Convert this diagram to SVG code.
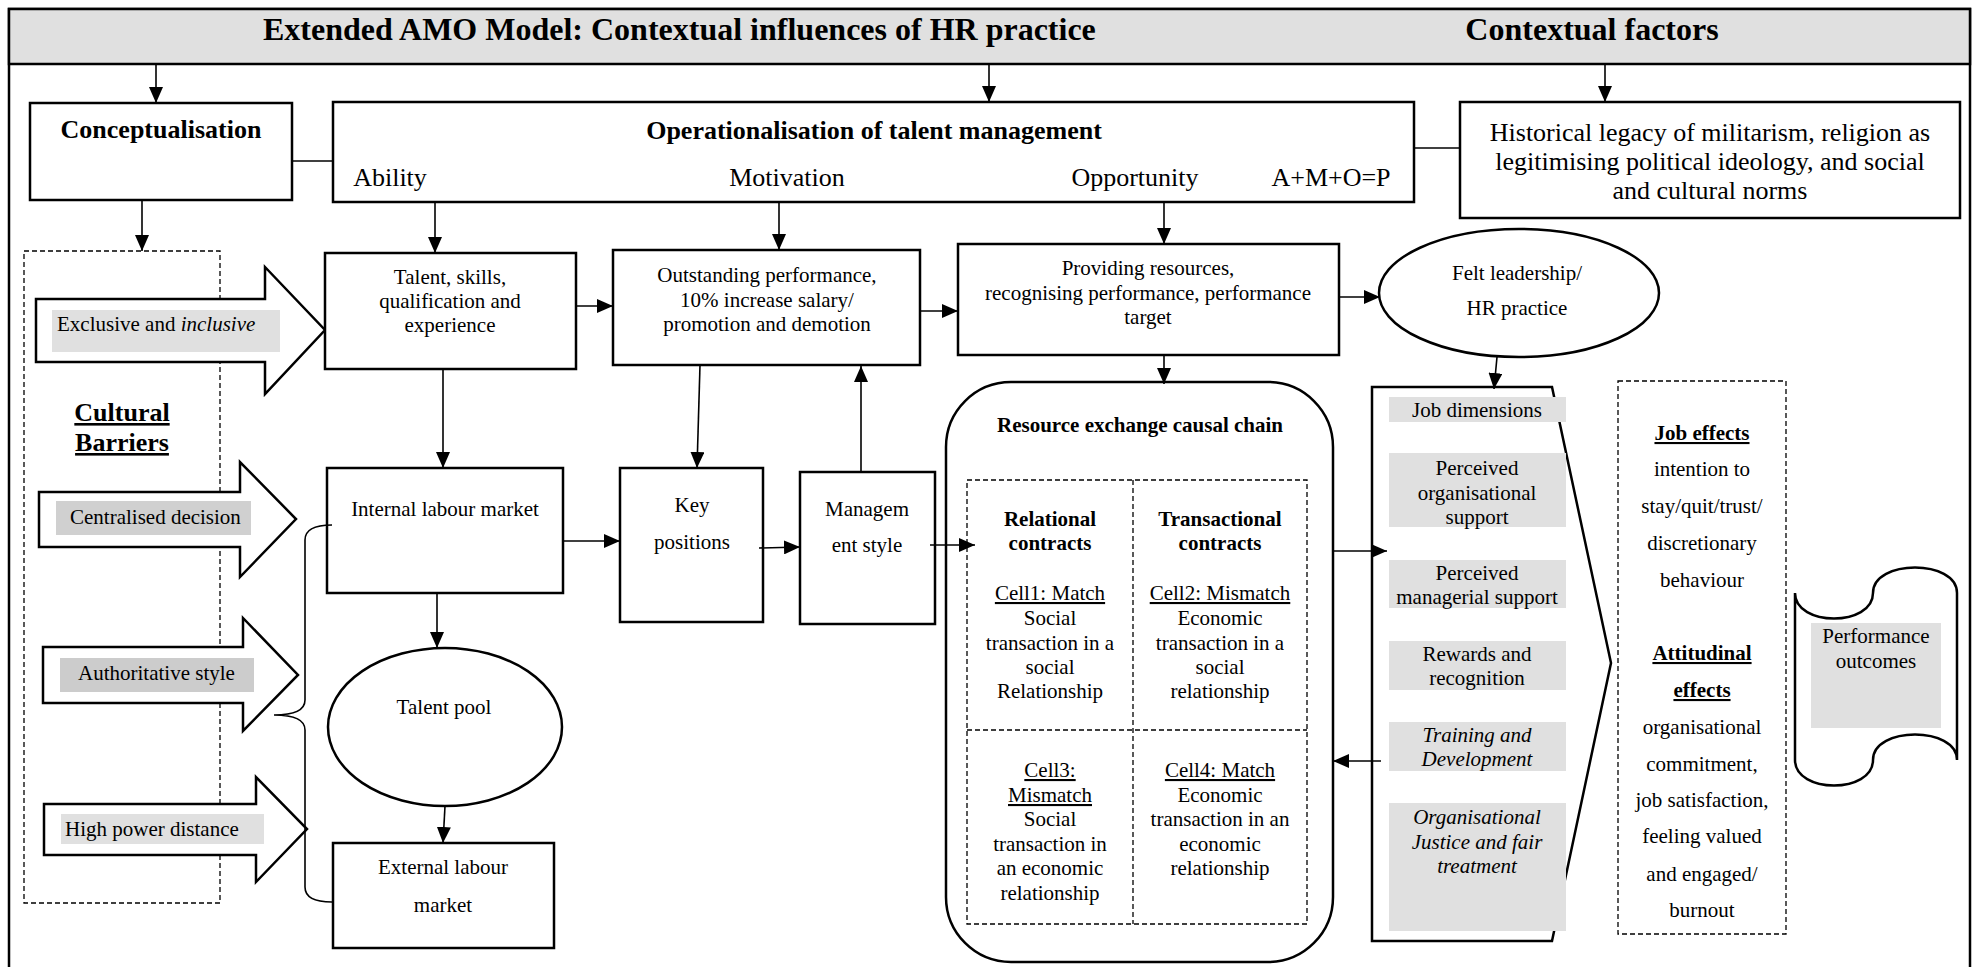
<svg xmlns="http://www.w3.org/2000/svg" width="1977" height="967" viewBox="0 0 1977 967">
<style>
text{font-family:"Liberation Serif","Times New Roman",serif;fill:#000}
.t21{font-size:21px}.t26{font-size:26px}.t32{font-size:32px}
.b{font-weight:bold}.i{font-style:italic}.u{text-decoration:underline}.c{text-anchor:middle}
.box{fill:#fff;stroke:#000;stroke-width:2.5}
.ln{fill:none;stroke:#000;stroke-width:1.6}
.arr{marker-end:url(#ah)}
.dash{fill:none;stroke:#000;stroke-width:1.3;stroke-dasharray:5 3}
.g1{fill:#e0e0e0}.g2{fill:#d0d0d0}.g3{fill:#cccccc}
.blk{fill:#fff;stroke:#000;stroke-width:2.5;stroke-linejoin:miter}
</style>
<defs>
<marker id="ah" markerUnits="userSpaceOnUse" markerWidth="16" markerHeight="14" refX="16" refY="7" orient="auto">
<path d="M0,0 L16,7 L0,14 z" fill="#000"/>
</marker>
</defs>
<rect width="1977" height="967" fill="#fff"/>
<g id="frame">
<rect x="9" y="9" width="1961" height="980" fill="none" stroke="#000" stroke-width="2.5"/>
<rect x="9" y="9" width="1961" height="55" fill="#e0e0e0" stroke="#000" stroke-width="2.5"/>
<text class="t32 b" x="263" y="40">Extended AMO Model: Contextual influences of HR practice</text>
<text class="t32 b c" x="1592" y="40">Contextual factors</text>
</g>
<g id="cultural-barriers">
<rect class="dash" x="24" y="251" width="196" height="652"/>
<text class="t26 b u c" x="122" y="421">Cultural</text>
<text class="t26 b u c" x="122" y="451">Barriers</text>
</g>
<g id="conceptualisation">
<rect class="box" x="30" y="103" width="262" height="97"/>
<text class="t26 b c" x="161" y="138">Conceptualisation</text>
</g>
<g id="operationalisation">
<rect class="box" x="333" y="102" width="1081" height="100"/>
<text class="t26 b c" x="874" y="139">Operationalisation of talent management</text>
<text class="t26 c" x="390" y="186">Ability</text>
<text class="t26 c" x="787" y="186">Motivation</text>
<text class="t26 c" x="1135" y="186">Opportunity</text>
<text class="t26 c" x="1331" y="186">A+M+O=P</text>
</g>
<g id="historical">
<rect class="box" x="1460" y="102" width="500" height="116"/>
<text class="t26 c" x="1710" y="141">Historical legacy of militarism, religion as</text>
<text class="t26 c" x="1710" y="170">legitimising political ideology, and social</text>
<text class="t26 c" x="1710" y="199">and cultural norms</text>
</g>
<g id="exclusive">
<polygon class="blk" points="36,299 265,299 265,267 325,330 265,394 265,362 36,362"/>
<rect class="g1" x="52" y="310" width="228" height="42"/>
<text class="t21" x="57" y="331">Exclusive and <tspan class="i">inclusive</tspan></text>
</g>
<g id="centralised">
<polygon class="blk" points="39,492 240,492 240,462 296,519 240,577 240,547 39,547"/>
<rect class="g2" x="56" y="501" width="195" height="34"/>
<text class="t21" x="70" y="524">Centralised decision</text>
</g>
<g id="authoritative">
<polygon class="blk" points="43,647 243,647 243,618 298,675 243,731 243,703 43,703"/>
<rect class="g3" x="60" y="658" width="194" height="34"/>
<text class="t21" x="78" y="680">Authoritative style</text>
</g>
<g id="high-power">
<polygon class="blk" points="44,804 256,804 256,777 307,829 256,882 256,855 44,855"/>
<rect class="g1" x="61" y="814" width="203" height="30"/>
<text class="t21" x="65" y="836">High power distance</text>
</g>
<g id="talent">
<rect class="box" x="325" y="253" width="251" height="116"/>
<text class="t21 c" x="450" y="284">Talent, skills,</text>
<text class="t21 c" x="450" y="308">qualification and</text>
<text class="t21 c" x="450" y="332">experience</text>
</g>
<g id="outstanding">
<rect class="box" x="613" y="250" width="307" height="115"/>
<text class="t21 c" x="767" y="282">Outstanding performance,</text>
<text class="t21 c" x="767" y="307">10% increase salary/</text>
<text class="t21 c" x="767" y="331">promotion and demotion</text>
</g>
<g id="providing">
<rect class="box" x="958" y="244" width="381" height="111"/>
<text class="t21 c" x="1148" y="275">Providing resources,</text>
<text class="t21 c" x="1148" y="300">recognising performance, performance</text>
<text class="t21 c" x="1148" y="324">target</text>
</g>
<g id="felt">
<ellipse class="box" cx="1519" cy="293" rx="140" ry="64"/>
<text class="t21 c" x="1517" y="280">Felt leadership/</text>
<text class="t21 c" x="1517" y="315">HR practice</text>
</g>
<g id="internal">
<rect class="box" x="327" y="468" width="236" height="125"/>
<text class="t21 c" x="445" y="516">Internal labour market</text>
</g>
<g id="key">
<rect class="box" x="620" y="468" width="143" height="154"/>
<text class="t21 c" x="692" y="512">Key</text>
<text class="t21 c" x="692" y="549">positions</text>
</g>
<g id="management">
<rect class="box" x="800" y="472" width="135" height="152"/>
<text class="t21 c" x="867" y="516">Managem</text>
<text class="t21 c" x="867" y="552">ent style</text>
</g>
<g id="talent-pool">
<ellipse class="box" cx="445" cy="727" rx="117" ry="79"/>
<text class="t21 c" x="444" y="714">Talent pool</text>
</g>
<g id="external">
<rect class="box" x="333" y="843" width="221" height="105"/>
<text class="t21 c" x="443" y="874">External labour</text>
<text class="t21 c" x="443" y="912">market</text>
</g>
<g id="resource">
<rect class="box" x="946" y="382" width="387" height="580" rx="65"/>
<text class="t21 b c" x="1140" y="432">Resource exchange causal chain</text>
<rect class="dash" x="967" y="480" width="340" height="444"/>
<line class="dash" x1="1133" y1="480" x2="1133" y2="924"/>
<line class="dash" x1="967" y1="730" x2="1307" y2="730"/>
<text class="t21 b c" x="1050" y="526">Relational</text>
<text class="t21 b c" x="1050" y="550">contracts</text>
<text class="t21 u c" x="1050" y="600">Cell1: Match</text>
<text class="t21 c" x="1050" y="625">Social</text>
<text class="t21 c" x="1050" y="650">transaction in a</text>
<text class="t21 c" x="1050" y="674">social</text>
<text class="t21 c" x="1050" y="698">Relationship</text>
<text class="t21 b c" x="1220" y="526">Transactional</text>
<text class="t21 b c" x="1220" y="550">contracts</text>
<text class="t21 u c" x="1220" y="600">Cell2: Mismatch</text>
<text class="t21 c" x="1220" y="625">Economic</text>
<text class="t21 c" x="1220" y="650">transaction in a</text>
<text class="t21 c" x="1220" y="674">social</text>
<text class="t21 c" x="1220" y="698">relationship</text>
<text class="t21 u c" x="1050" y="777">Cell3:</text>
<text class="t21 u c" x="1050" y="802">Mismatch</text>
<text class="t21 c" x="1050" y="826">Social</text>
<text class="t21 c" x="1050" y="851">transaction in</text>
<text class="t21 c" x="1050" y="875">an economic</text>
<text class="t21 c" x="1050" y="900">relationship</text>
<text class="t21 u c" x="1220" y="777">Cell4: Match</text>
<text class="t21 c" x="1220" y="802">Economic</text>
<text class="t21 c" x="1220" y="826">transaction in an</text>
<text class="t21 c" x="1220" y="851">economic</text>
<text class="t21 c" x="1220" y="875">relationship</text>
</g>
<g id="hr-dimensions">
<polygon class="box" points="1372,387 1552,387 1611,663 1552,941 1372,941"/>
<rect class="g1" x="1389" y="397" width="177" height="25"/>
<text class="t21 c" x="1477" y="417">Job dimensions</text>
<rect class="g1" x="1389" y="453" width="177" height="74"/>
<text class="t21 c" x="1477" y="475">Perceived</text>
<text class="t21 c" x="1477" y="500">organisational</text>
<text class="t21 c" x="1477" y="524">support</text>
<rect class="g1" x="1389" y="560" width="177" height="48"/>
<text class="t21 c" x="1477" y="580">Perceived</text>
<text class="t21 c" x="1477" y="604">managerial support</text>
<rect class="g1" x="1389" y="641" width="177" height="49"/>
<text class="t21 c" x="1477" y="661">Rewards and</text>
<text class="t21 c" x="1477" y="685">recognition</text>
<rect class="g1" x="1389" y="722" width="177" height="49"/>
<text class="t21 i c" x="1477" y="742">Training and</text>
<text class="t21 i c" x="1477" y="766">Development</text>
<rect class="g1" x="1389" y="803" width="177" height="128"/>
<text class="t21 i c" x="1477" y="824">Organisational</text>
<text class="t21 i c" x="1477" y="849">Justice and fair</text>
<text class="t21 i c" x="1477" y="873">treatment</text>
</g>
<g id="effects">
<rect class="dash" x="1618" y="381" width="168" height="553"/>
<text class="t21 b u c" x="1702" y="440">Job effects</text>
<text class="t21 c" x="1702" y="476">intention to</text>
<text class="t21 c" x="1702" y="513">stay/quit/trust/</text>
<text class="t21 c" x="1702" y="550">discretionary</text>
<text class="t21 c" x="1702" y="587">behaviour</text>
<text class="t21 b u c" x="1702" y="660">Attitudinal</text>
<text class="t21 b u c" x="1702" y="697">effects</text>
<text class="t21 c" x="1702" y="734">organisational</text>
<text class="t21 c" x="1702" y="771">commitment,</text>
<text class="t21 c" x="1702" y="807">job satisfaction,</text>
<text class="t21 c" x="1702" y="843">feeling valued</text>
<text class="t21 c" x="1702" y="881">and engaged/</text>
<text class="t21 c" x="1702" y="917">burnout</text>
</g>
<g id="performance">
<path class="box" d="M1795,593 C1795,627 1873,627 1873,593 C1873,559 1957,559 1957,593 L1957,760 C1957,726 1873,726 1873,760 C1873,794 1795,794 1795,760 Z"/>
<rect class="g1" x="1811" y="623" width="130" height="105"/>
<text class="t21 c" x="1876" y="643">Performance</text>
<text class="t21 c" x="1876" y="668">outcomes</text>
</g>
<g id="connectors">
<line class="ln arr" x1="156" y1="64" x2="156" y2="103"/>
<line class="ln arr" x1="989" y1="64" x2="989" y2="102"/>
<line class="ln arr" x1="1605" y1="64" x2="1605" y2="102"/>
<line class="ln" x1="292" y1="161" x2="333" y2="161"/>
<line class="ln" x1="1414" y1="148" x2="1460" y2="148"/>
<line class="ln arr" x1="142" y1="200" x2="142" y2="251"/>
<line class="ln arr" x1="435" y1="202" x2="435" y2="253"/>
<line class="ln arr" x1="779" y1="202" x2="779" y2="250"/>
<line class="ln arr" x1="1164" y1="202" x2="1164" y2="244"/>
<line class="ln arr" x1="576" y1="306" x2="613" y2="306"/>
<line class="ln arr" x1="920" y1="311" x2="958" y2="311"/>
<line class="ln arr" x1="1339" y1="297" x2="1380" y2="297"/>
<line class="ln arr" x1="1164" y1="355" x2="1164" y2="384"/>
<line class="ln arr" x1="1497" y1="357" x2="1494" y2="389"/>
<line class="ln arr" x1="443" y1="369" x2="443" y2="468"/>
<line class="ln arr" x1="700" y1="365" x2="697" y2="468"/>
<line class="ln arr" x1="861" y1="472" x2="861" y2="366"/>
<line class="ln arr" x1="563" y1="541" x2="620" y2="541"/>
<line class="ln arr" x1="759" y1="548" x2="800" y2="547"/>
<line class="ln arr" x1="930" y1="545" x2="975" y2="545"/>
<line class="ln arr" x1="437" y1="593" x2="437" y2="648"/>
<line class="ln arr" x1="445" y1="806" x2="443" y2="843"/>
<line class="ln arr" x1="1333" y1="551" x2="1387" y2="551"/>
<line class="ln arr" x1="1381" y1="761" x2="1333" y2="761"/>
<path class="ln" d="M332,525 Q305,525 305,540 L305,700 Q305,715 274,715 Q305,715 305,730 L305,887 Q305,902 332,902"/>
</g>
</svg>
